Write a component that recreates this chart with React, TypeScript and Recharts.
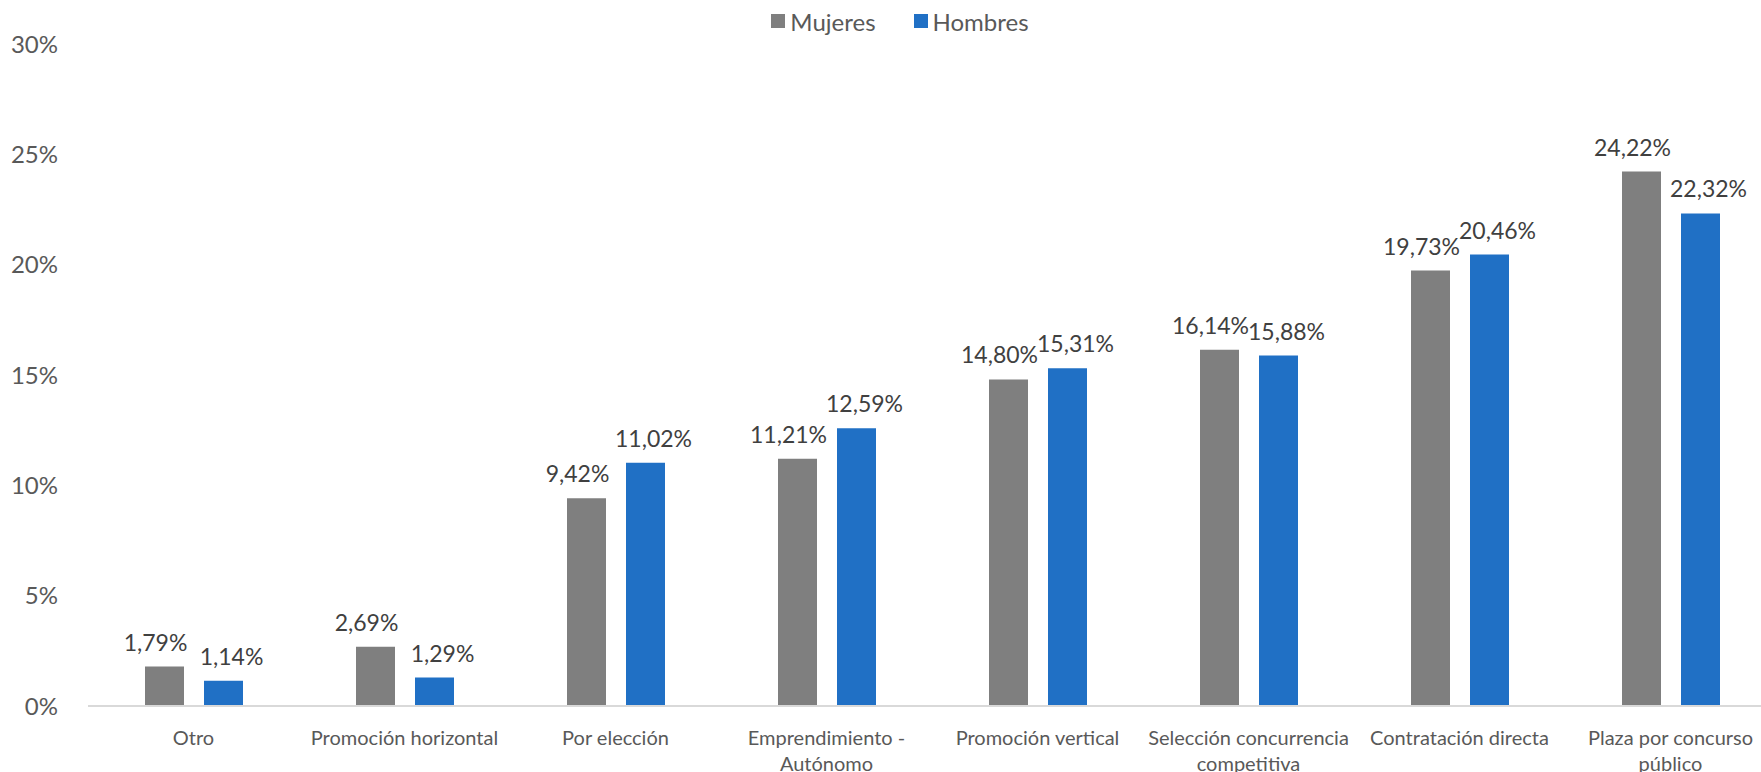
import React from "react";
import { BarChart, Bar, XAxis, YAxis, Legend, LabelList } from "recharts";

const categories = [
  "Otro",
  "Promoción horizontal",
  "Por elección",
  "Emprendimiento - Autónomo",
  "Promoción vertical",
  "Selección concurrencia competitiva",
  "Contratación directa",
  "Plaza por concurso público",
];
const mujeres = [1.79, 2.69, 9.42, 11.21, 14.8, 16.14, 19.73, 24.22];
const hombres = [1.14, 1.29, 11.02, 12.59, 15.31, 15.88, 20.46, 22.32];
const yTicks = [0, 5, 10, 15, 20, 25, 30];

const GREY = "#7F7F7F";
const BLUE = "#2070C5";
const FONT = "Lato, 'Open Sans', sans-serif";

const data = categories.map((name, i) => ({
  name,
  Mujeres: mujeres[i],
  Hombres: hombres[i],
}));

const fmt = (v: number) => v.toFixed(2).replace(".", ",") + "%";

let ctx: CanvasRenderingContext2D | null = null;
function wrap(text: string, maxWidth: number, font: string): string[] {
  if (!ctx) ctx = document.createElement("canvas").getContext("2d");
  if (!ctx) return [text];
  ctx.font = font;
  const words = text.split(" ");
  const lines: string[] = [];
  let cur = "";
  words.forEach((w) => {
    const test = cur ? cur + " " + w : w;
    if (cur && ctx!.measureText(test).width > maxWidth) {
      lines.push(cur);
      cur = w;
    } else {
      cur = test;
    }
  });
  if (cur) lines.push(cur);
  return lines;
}

function CategoryTick(props: any) {
  const { x, y, payload } = props;
  const lines = wrap(String(payload.value), 212, "20px Lato");
  return (
    <text
      x={x}
      y={y + 31}
      textAnchor="middle"
      fill="#595959"
      fontSize={20}
      fontFamily={FONT}
    >
      {lines.map((l, i) => (
        <tspan key={i} x={x} dy={i === 0 ? 0 : 26}>
          {l}
        </tspan>
      ))}
    </text>
  );
}

function LegendBox() {
  const items = [
    { label: "Mujeres", color: GREY },
    { label: "Hombres", color: BLUE },
  ];
  return (
    <div
      style={{
        display: "flex",
        justifyContent: "center",
        gap: 38,
        height: 30,
        alignItems: "center",
        paddingLeft: 24,
        fontFamily: FONT,
        fontSize: 24,
        color: "#595959",
      }}
    >
      {items.map((it) => (
        <div key={it.label} style={{ display: "flex", alignItems: "center", gap: 5 }}>
          <span style={{ width: 14, height: 14, background: it.color, display: "inline-block" }} />
          <span>{it.label}</span>
        </div>
      ))}
    </div>
  );
}

export default function App() {
  return (
    <div
      style={{
        position: "absolute",
        left: 0,
        top: 0,
        width: 1761,
        height: 772,
        overflow: "hidden",
        background: "#fff",
      }}
    >
      <BarChart
        width={1776}
        height={772}
        data={data}
        margin={{ top: 14, right: 0, left: 0, bottom: 0 }}
        barGap={20}
      >
        <Legend verticalAlign="top" content={<LegendBox />} wrapperStyle={{ top: 6 }} />
        <XAxis
          dataKey="name"
          height={66}
          tickLine={false}
          axisLine={{ stroke: "#D9D9D9", strokeWidth: 2 }}
          tick={<CategoryTick />}
          interval={0}
        />
        <YAxis
          width={88}
          domain={[0, 30]}
          ticks={yTicks}
          tickFormatter={(v) => v + "%"}
          axisLine={false}
          tickLine={false}
          tickMargin={24}
          tick={{ fill: "#595959", fontSize: 24, fontFamily: FONT }}
        />
        <Bar dataKey="Mujeres" fill={GREY} barSize={39} isAnimationActive={false}>
          <LabelList
            dataKey="Mujeres"
            position="top"
            offset={16}
            dx={-9}
            formatter={(v: any) => fmt(Number(v))}
            style={{ fill: "#404040", fontSize: 23, fontFamily: FONT }}
          />
        </Bar>
        <Bar dataKey="Hombres" fill={BLUE} barSize={39} isAnimationActive={false}>
          <LabelList
            dataKey="Hombres"
            position="top"
            offset={16}
            dx={8}
            formatter={(v: any) => fmt(Number(v))}
            style={{ fill: "#404040", fontSize: 23, fontFamily: FONT }}
          />
        </Bar>
      </BarChart>
    </div>
  );
}
